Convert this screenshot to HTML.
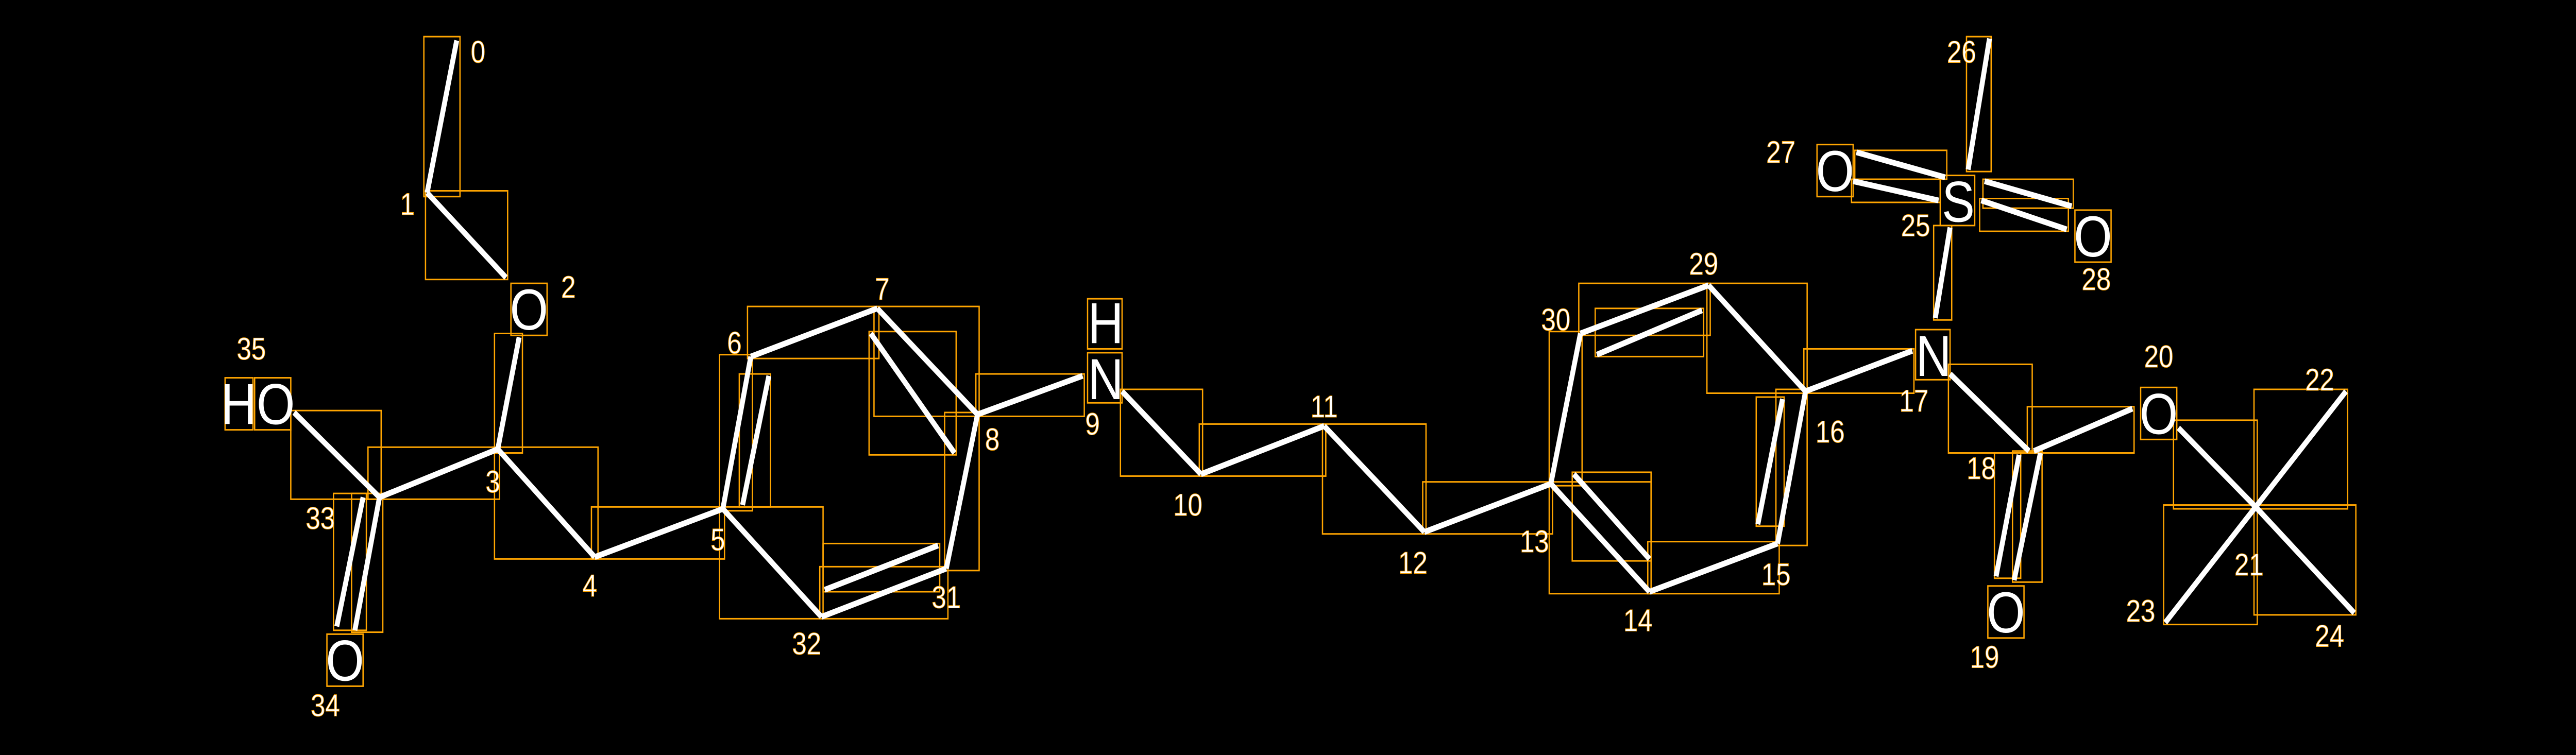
<!DOCTYPE html>
<html><head><meta charset="utf-8"><style>
html,body{margin:0;padding:0;background:#000;width:100%;height:100%;overflow:hidden;}
svg{position:absolute;left:0;top:0;display:block;width:100vw;height:100vh;}
text{font-family:"Liberation Sans","DejaVu Sans",sans-serif;fill:#fff;}
</style></head><body>
<svg viewBox="0 0 1568 391.7" preserveAspectRatio="none" xmlns="http://www.w3.org/2000/svg">
<rect x="0" y="0" width="1568" height="392" fill="#000"/>
<g fill="none" stroke="#FFA500" stroke-width="0.8">
<rect x="258" y="19" width="22" height="83"/>
<rect x="259" y="99" width="50" height="46"/>
<rect x="301" y="173" width="17" height="62"/>
<rect x="224" y="232" width="80" height="27"/>
<rect x="177" y="213" width="55" height="46"/>
<rect x="203" y="256" width="20" height="71"/>
<rect x="214" y="256" width="19" height="72"/>
<rect x="301" y="232" width="63" height="58"/>
<rect x="360" y="263" width="81" height="27"/>
<rect x="438" y="184" width="20" height="81"/>
<rect x="450" y="194" width="19" height="69"/>
<rect x="455" y="159" width="80" height="27"/>
<rect x="532" y="159" width="64" height="57"/>
<rect x="529" y="172" width="53" height="64"/>
<rect x="575" y="214" width="21" height="82"/>
<rect x="499" y="294" width="78" height="27"/>
<rect x="501" y="282" width="71" height="25"/>
<rect x="438" y="263" width="63" height="58"/>
<rect x="594" y="194" width="66" height="22"/>
<rect x="682" y="202" width="50" height="45"/>
<rect x="730" y="220" width="77" height="27"/>
<rect x="805" y="220" width="63" height="57"/>
<rect x="866" y="250" width="79" height="27"/>
<rect x="943" y="250" width="62" height="58"/>
<rect x="957" y="245" width="48" height="46"/>
<rect x="1003" y="281" width="80" height="27"/>
<rect x="1081" y="202" width="19" height="81"/>
<rect x="1069" y="206" width="17" height="67"/>
<rect x="1039" y="147" width="61" height="57"/>
<rect x="961" y="147" width="80" height="27"/>
<rect x="971" y="160" width="66" height="25"/>
<rect x="943" y="172" width="20" height="80"/>
<rect x="1098" y="181" width="67" height="23"/>
<rect x="1177" y="117" width="11" height="49"/>
<rect x="1197" y="19" width="15" height="70"/>
<rect x="1129" y="78" width="56" height="15"/>
<rect x="1127" y="93" width="54" height="12"/>
<rect x="1207" y="93" width="55" height="15"/>
<rect x="1205" y="103" width="54" height="17"/>
<rect x="1186" y="189" width="51" height="46"/>
<rect x="1234" y="211" width="65" height="24"/>
<rect x="1214" y="235" width="16" height="65"/>
<rect x="1225" y="234" width="18" height="68"/>
<rect x="1323" y="218" width="51" height="46"/>
<rect x="1372" y="202" width="57" height="62"/>
<rect x="1317" y="262" width="57" height="62"/>
<rect x="1372" y="262" width="62" height="57"/>
<rect x="311" y="147" width="22" height="27"/>
<rect x="137" y="196" width="17" height="27"/>
<rect x="155" y="196" width="22" height="27"/>
<rect x="199" y="329" width="22" height="27"/>
<rect x="662" y="155" width="21" height="26"/>
<rect x="662" y="183" width="21" height="26"/>
<rect x="1166" y="171" width="21" height="26"/>
<rect x="1181" y="91" width="21" height="26"/>
<rect x="1106" y="75" width="22" height="27"/>
<rect x="1263" y="109" width="22" height="27"/>
<rect x="1210" y="304" width="22" height="27"/>
<rect x="1303" y="201" width="22" height="27"/>
</g>
<g stroke="#fff" stroke-width="3">
<line x1="278" y1="21" x2="260" y2="100"/>
<line x1="260" y1="100" x2="308" y2="144"/>
<line x1="316" y1="175" x2="303" y2="233"/>
<line x1="303" y1="233" x2="231" y2="258"/>
<line x1="231" y1="258" x2="179" y2="214"/>
<line x1="221" y1="258" x2="205" y2="325"/>
<line x1="231" y1="258" x2="216" y2="327"/>
<line x1="303" y1="233" x2="362" y2="289"/>
<line x1="362" y1="289" x2="440" y2="264"/>
<line x1="440" y1="264" x2="457" y2="185"/>
<line x1="452" y1="262" x2="468" y2="195"/>
<line x1="457" y1="185" x2="534" y2="160"/>
<line x1="534" y1="160" x2="595" y2="215"/>
<line x1="530" y1="173" x2="581" y2="235"/>
<line x1="595" y1="215" x2="576" y2="295"/>
<line x1="576" y1="295" x2="500" y2="320"/>
<line x1="571" y1="283" x2="502" y2="306"/>
<line x1="500" y1="320" x2="440" y2="264"/>
<line x1="595" y1="215" x2="659" y2="195"/>
<line x1="683" y1="203" x2="731" y2="246"/>
<line x1="731" y1="246" x2="806" y2="221"/>
<line x1="806" y1="221" x2="867" y2="276"/>
<line x1="867" y1="276" x2="944" y2="251"/>
<line x1="944" y1="251" x2="1004" y2="307"/>
<line x1="958" y1="246" x2="1004" y2="290"/>
<line x1="1004" y1="307" x2="1082" y2="282"/>
<line x1="1082" y1="282" x2="1099" y2="203"/>
<line x1="1070" y1="272" x2="1085" y2="207"/>
<line x1="1099" y1="203" x2="1040" y2="148"/>
<line x1="1040" y1="148" x2="962" y2="173"/>
<line x1="1036" y1="161" x2="972" y2="184"/>
<line x1="962" y1="173" x2="944" y2="251"/>
<line x1="1099" y1="203" x2="1164" y2="182"/>
<line x1="1178" y1="165" x2="1187" y2="118"/>
<line x1="1198" y1="88" x2="1211" y2="20"/>
<line x1="1130" y1="79" x2="1184" y2="92"/>
<line x1="1128" y1="94" x2="1180" y2="104"/>
<line x1="1208" y1="94" x2="1261" y2="107"/>
<line x1="1206" y1="104" x2="1258" y2="119"/>
<line x1="1187" y1="194" x2="1235" y2="234"/>
<line x1="1238" y1="234" x2="1298" y2="212"/>
<line x1="1229" y1="236" x2="1215" y2="299"/>
<line x1="1242" y1="235" x2="1226" y2="301"/>
<line x1="1326" y1="222" x2="1373" y2="263"/>
<line x1="1373" y1="263" x2="1428" y2="203"/>
<line x1="1373" y1="263" x2="1318" y2="323"/>
<line x1="1373" y1="263" x2="1433" y2="318"/>
</g>
<g font-size="30" text-anchor="middle" dominant-baseline="central">
<text x="322" y="161">O</text>
<text x="157" y="210">HO</text>
<text x="210" y="343">O</text>
<text x="673" y="168">H</text>
<text x="673" y="197">N</text>
<text x="1177" y="185">N</text>
<text x="1192" y="105">S</text>
<text x="1117" y="89">O</text>
<text x="1274" y="123">O</text>
<text x="1221" y="318">O</text>
<text x="1314" y="215">O</text>
</g>
<g font-size="16" text-anchor="middle" dominant-baseline="central" stroke="#FFA500" stroke-width="0.3">
<text x="291" y="27">0</text>
<text x="248" y="106">1</text>
<text x="346" y="149">2</text>
<text x="300" y="250">3</text>
<text x="359" y="304">4</text>
<text x="437" y="280">5</text>
<text x="447" y="178">6</text>
<text x="537" y="150">7</text>
<text x="604" y="228">8</text>
<text x="665" y="220">9</text>
<text x="723" y="262">10</text>
<text x="806" y="211">11</text>
<text x="860" y="292">12</text>
<text x="934" y="281">13</text>
<text x="997" y="322">14</text>
<text x="1081" y="298">15</text>
<text x="1114" y="224">16</text>
<text x="1165" y="208">17</text>
<text x="1206" y="243">18</text>
<text x="1208" y="341">19</text>
<text x="1314" y="185">20</text>
<text x="1369" y="293">21</text>
<text x="1412" y="197">22</text>
<text x="1303" y="317">23</text>
<text x="1418" y="330">24</text>
<text x="1166" y="117">25</text>
<text x="1194" y="27">26</text>
<text x="1084" y="79">27</text>
<text x="1276" y="145">28</text>
<text x="1037" y="137">29</text>
<text x="947" y="166">30</text>
<text x="576" y="310">31</text>
<text x="491" y="334">32</text>
<text x="195" y="269">33</text>
<text x="198" y="366">34</text>
<text x="153" y="181">35</text>
</g>
</svg>
</body></html>
